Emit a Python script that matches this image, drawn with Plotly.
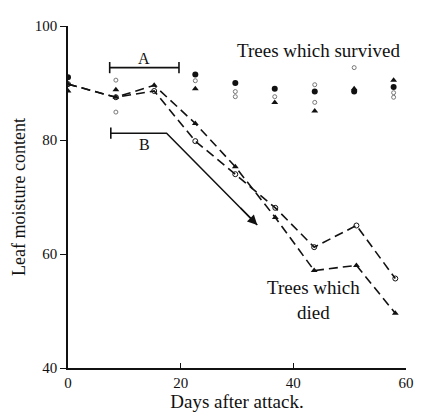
import plotly.graph_objects as go

# ---- data ----
died_days = [0, 8.5, 15.3, 22.6, 29.7, 36.8, 43.7, 51.2, 58.1]
died_tri_vals = [89.8, 87.5, 89.6, 82.9, 75.3, 66.4, 57.1, 58.0, 49.6]
died_circ_vals = [89.8, 87.5, 88.6, 79.8, 74.0, 68.1, 61.2, 65.0, 55.7]

surv_dot_days = [0, 22.6, 29.7, 36.7, 43.8, 50.8, 57.8]
surv_dot_vals = [91.0, 91.5, 90.0, 89.0, 88.5, 88.5, 89.3]
surv_tri_days = [0, 8.5, 22.6, 36.7, 43.8, 50.8, 57.8]
surv_tri_vals = [88.6, 88.8, 89.0, 86.6, 85.1, 89.0, 90.5]
surv_circ_days = [8.5, 8.5, 22.6, 29.7, 29.7, 36.7, 43.8, 43.8, 50.8, 57.8, 57.8]
surv_circ_vals = [90.5, 84.9, 90.4, 88.5, 87.6, 87.6, 89.7, 86.6, 92.7, 88.3, 87.5]

a_days = [7.4, 19.7]
a_val = 92.7
b_days = [7.6, 17.5, 33.6]
b_vals = [81.2, 81.2, 65.1]

x_ticks = [0, 20, 40, 60]
y_ticks = [40, 60, 80, 100]

FONT = "Liberation Serif, DejaVu Serif, serif"
INK = "#111111"

fig = go.Figure()

dash = "9px,5px"
fig.add_trace(go.Scatter(x=died_days, y=died_circ_vals, mode="lines+markers",
                         line=dict(color=INK, width=1.6, dash=dash),
                         marker=dict(symbol="circle-open", size=5, color=INK, line=dict(width=1)),
                         showlegend=False))
fig.add_trace(go.Scatter(x=died_days, y=died_tri_vals, mode="lines+markers",
                         line=dict(color=INK, width=1.6, dash=dash),
                         marker=dict(symbol="triangle-up", size=6, color=INK),
                         showlegend=False))

fig.add_trace(go.Scatter(x=surv_dot_days, y=surv_dot_vals, mode="markers",
                         marker=dict(symbol="circle", size=6, color=INK), showlegend=False))
fig.add_trace(go.Scatter(x=surv_tri_days, y=surv_tri_vals, mode="markers",
                         marker=dict(symbol="triangle-up", size=6, color=INK), showlegend=False))
fig.add_trace(go.Scatter(x=surv_circ_days, y=surv_circ_vals, mode="markers",
                         marker=dict(symbol="circle-open", size=4, color="#777777", line=dict(width=1)),
                         showlegend=False))

# A bracket
fig.add_trace(go.Scatter(x=a_days, y=[a_val, a_val], mode="lines+markers",
                         line=dict(color=INK, width=1.6),
                         marker=dict(symbol="line-ns", size=8, color=INK, line=dict(width=1.6, color=INK)),
                         showlegend=False))
# B line with arrow
fig.add_trace(go.Scatter(x=b_days, y=b_vals, mode="lines",
                         line=dict(color=INK, width=1.5), showlegend=False))
fig.add_trace(go.Scatter(x=[b_days[0]], y=[b_vals[0]], mode="markers",
                         marker=dict(symbol="line-ns", size=8, color=INK, line=dict(width=1.6, color=INK)),
                         showlegend=False))
fig.add_annotation(x=b_days[2], y=b_vals[2], ax=b_days[1] + (b_days[2] - b_days[1]) * 0.8,
                   ay=b_vals[1] + (b_vals[2] - b_vals[1]) * 0.8, xref="x", yref="y", axref="x", ayref="y",
                   showarrow=True, arrowhead=2, arrowsize=1.3, arrowwidth=1.5, arrowcolor=INK, text="")

fig.add_annotation(x=(a_days[0] + a_days[1]) / 2, y=a_val, text="A", showarrow=False,
                   yanchor="bottom", yshift=-1, font=dict(family=FONT, size=16, color=INK))
fig.add_annotation(x=(a_days[0] + a_days[1]) / 2, y=b_vals[0], text="B", showarrow=False,
                   yanchor="top", yshift=-1, font=dict(family=FONT, size=16, color=INK))
fig.add_annotation(x=44.4, y=95.7, text="Trees which survived", showarrow=False,
                   font=dict(family=FONT, size=19, color=INK))
fig.add_annotation(x=43.6, y=52.0, text="Trees which<br>died", showarrow=False,
                   font=dict(family=FONT, size=19, color=INK))

# page has an 8px body margin: compensate so the plot area lands where the reference has it
fig.update_layout(
    width=416, height=408,
    margin=dict(l=51, r=10, t=11, b=43),
    paper_bgcolor="white", plot_bgcolor="white",
    font=dict(family=FONT, size=15, color=INK),
)
fig.update_xaxes(range=[0, 60], tickvals=x_ticks, ticktext=[str(v) for v in x_ticks],
                 showgrid=False, zeroline=False, showline=True, linecolor=INK, linewidth=1.6,
                 ticks="inside", ticklen=5, tickcolor=INK,
                 title=dict(text="Days after attack.", font=dict(family=FONT, size=19), standoff=2))
fig.update_yaxes(range=[40, 100], tickvals=y_ticks, ticktext=[str(v) for v in y_ticks],
                 showgrid=False, zeroline=False, showline=True, linecolor=INK, linewidth=1.6,
                 ticks="outside", ticklen=6, tickcolor=INK,
                 title=dict(text="Leaf moisture content", font=dict(family=FONT, size=18), standoff=4))

fig.write_html("out.html")
